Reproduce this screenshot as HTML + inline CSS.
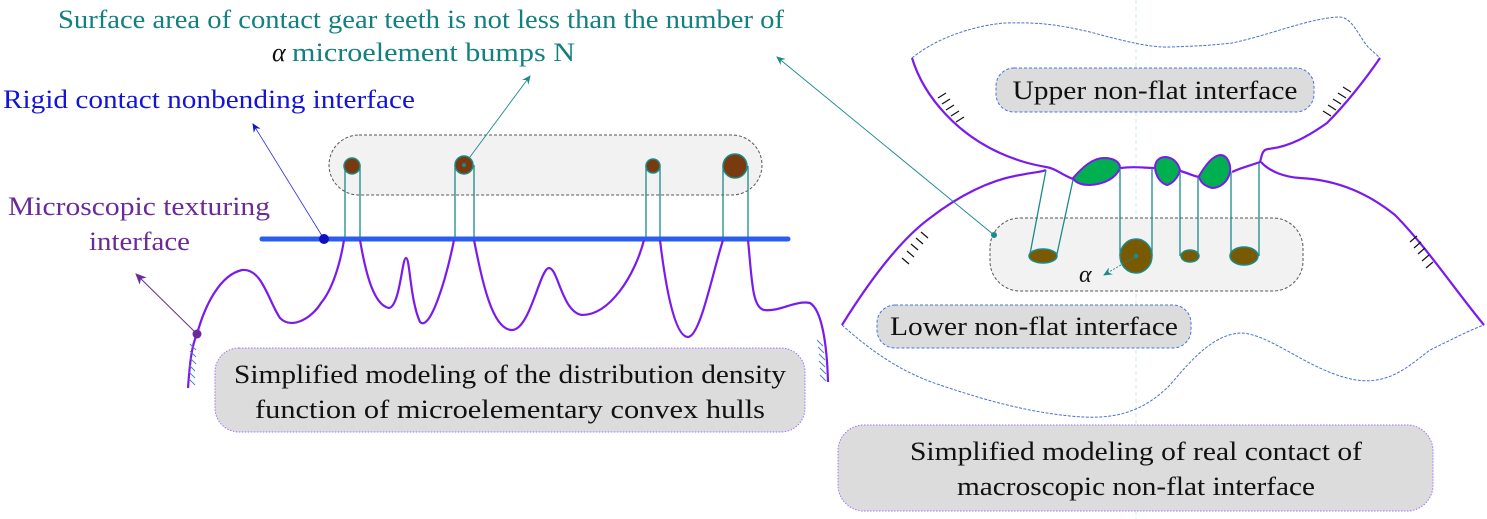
<!DOCTYPE html>
<html><head><meta charset="utf-8"><style>
html,body{margin:0;padding:0;background:#fff;width:1487px;height:519px;overflow:hidden}
svg{display:block}
svg text{font-family:"Liberation Serif","Times New Roman",Times,serif}
</style></head><body>
<svg width="1487" height="519" viewBox="0 0 1487 519" xmlns="http://www.w3.org/2000/svg" font-family="Liberation Serif, Times New Roman, serif">
<defs>
<marker id="aT" markerWidth="10" markerHeight="10" refX="8" refY="5" orient="auto" markerUnits="userSpaceOnUse"><path d="M0,1 L9,5 L0,9 L3,5Z" fill="#1a8a8a"/></marker>
<marker id="aB" markerWidth="10" markerHeight="10" refX="8" refY="5" orient="auto" markerUnits="userSpaceOnUse"><path d="M0,1 L9,5 L0,9 L3,5Z" fill="#1010d0"/></marker>
<marker id="aP" markerWidth="12" markerHeight="12" refX="10" refY="6" orient="auto" markerUnits="userSpaceOnUse"><path d="M0,1 L11,6 L0,11 L3,6Z" fill="#6a2a9a"/></marker>
</defs>

<text x="58" y="28" font-size="26" fill="#138080" textLength="726" lengthAdjust="spacingAndGlyphs">Surface area of contact gear teeth is not less than the number of</text>
<text x="272" y="61" font-size="26" fill="#111" font-style="italic">α</text>
<text x="292" y="61" font-size="26" fill="#138080" textLength="283" lengthAdjust="spacingAndGlyphs">microelement bumps N</text>
<text x="3" y="108" font-size="26" fill="#1414d8" textLength="412" lengthAdjust="spacingAndGlyphs">Rigid contact nonbending interface</text>
<text x="8" y="215" font-size="26" fill="#6a2a9a" textLength="262" lengthAdjust="spacingAndGlyphs">Microscopic texturing</text>
<text x="89" y="250" font-size="26" fill="#6a2a9a" textLength="101" lengthAdjust="spacingAndGlyphs">interface</text>

<rect x="329" y="135" width="433" height="60" rx="30" fill="#f2f2f2" stroke="#555" stroke-dasharray="3,2" stroke-width="1"/>

<line x1="324" y1="239" x2="253" y2="124" stroke="#3030e0" stroke-width="0.8" marker-end="url(#aB)"/>
<line x1="464" y1="165" x2="530" y2="76" stroke="#1a8a8a" stroke-width="0.9" marker-end="url(#aT)"/>
<line x1="197" y1="334" x2="136" y2="274" stroke="#6a2a9a" stroke-width="1" marker-end="url(#aP)"/>

<g stroke="#1a8a8a" stroke-width="1.3" fill="none">
<line x1="345" y1="166" x2="345" y2="240"/><line x1="360" y1="166" x2="360" y2="240"/>
<line x1="455" y1="165" x2="455" y2="240"/><line x1="474" y1="165" x2="474" y2="240"/>
<line x1="646" y1="166" x2="646" y2="240"/><line x1="660" y1="166" x2="660" y2="240"/>
<line x1="723" y1="166" x2="723" y2="240"/><line x1="748" y1="166" x2="748" y2="240"/>
</g>
<g fill="#7a3a10" stroke="#1a8a8a" stroke-width="1.5">
<circle cx="352" cy="166" r="8"/><circle cx="464" cy="165" r="9"/><circle cx="653" cy="166" r="7"/><circle cx="735" cy="166" r="12"/>
</g>
<circle cx="464" cy="165" r="2" fill="#1a8a8a"/>

<line x1="262" y1="239" x2="788" y2="239" stroke="#2a5cf0" stroke-width="5" stroke-linecap="round"/>
<circle cx="324" cy="239" r="5" fill="#1010c0"/>

<path d="M188,388 C190,360 192,345 197,334 C205,305 220,275 242,270 C262,268 268,300 280,318 C292,330 312,318 321,303 C332,290 340,265 344,240
M360,240 C366,275 374,305 389,308 C400,306 402,258 406,258 C410,258 410,300 420,322 C430,332 446,280 454,240
M474,240 C482,280 492,330 512,330 C530,330 540,268 549,268 C558,268 562,312 582,315 C610,315 635,275 644,240
M660,240 C666,290 675,337 688,337 C700,337 712,275 723,240
M748,240 C752,280 752,307 764,310 C780,312 795,300 810,303 C822,310 827,345 828,382" fill="none" stroke="#7a1aee" stroke-width="2.2"/>
<circle cx="197" cy="334" r="4.5" fill="#6a2a9a"/>
<g stroke="#4a80d0" stroke-width="1">
<line x1="190" y1="344" x2="196" y2="350"/><line x1="190" y1="351" x2="196" y2="357"/><line x1="190" y1="358" x2="196" y2="364"/><line x1="189" y1="365" x2="195" y2="371"/><line x1="189" y1="372" x2="195" y2="378"/><line x1="189" y1="379" x2="195" y2="385"/>
<line x1="817" y1="340" x2="823" y2="346"/><line x1="818" y1="347" x2="824" y2="353"/><line x1="819" y1="354" x2="825" y2="360"/><line x1="819" y1="361" x2="825" y2="367"/><line x1="820" y1="368" x2="826" y2="374"/><line x1="820" y1="375" x2="826" y2="381"/>
</g>

<rect x="215" y="348" width="590" height="84" rx="24" fill="#dcdcdc" stroke="#a070ff" stroke-dasharray="1.5,1.5" stroke-width="1"/>
<text x="510" y="383" font-size="26" fill="#111" text-anchor="middle" textLength="552" lengthAdjust="spacingAndGlyphs">Simplified modeling of the distribution density</text>
<text x="510" y="418" font-size="26" fill="#111" text-anchor="middle" textLength="510" lengthAdjust="spacingAndGlyphs">function of microelementary convex hulls</text>

<line x1="1136" y1="0" x2="1136" y2="519" stroke="#cfe8e8" stroke-width="1" stroke-dasharray="4,3"/>
<path d="M912,58 C940,35 980,25 1005,23 C1040,22 1060,25 1090,32 C1120,40 1150,48 1170,47 C1200,46 1215,45 1232,43 C1270,35 1310,18 1339,17 C1352,17 1358,35 1368,47 L1380,58" fill="none" stroke="#4a70d0" stroke-width="1" stroke-dasharray="3,1.5"/>
<path d="M842,325 C870,350 900,372 940,385 C990,402 1030,412 1070,416 C1110,420 1140,415 1170,385 C1195,355 1215,335 1240,333 C1270,333 1310,372 1356,380 C1390,385 1410,365 1430,350 C1455,338 1470,330 1484,325" fill="none" stroke="#4a70d0" stroke-width="1" stroke-dasharray="3,1.5"/>
<path d="M912,58 C925,100 960,135 1000,153 C1020,162 1035,165 1046,167 C1055,168 1062,175 1073,179 C1085,180 1110,168 1121,168 C1135,166 1145,168 1154,168 M1180,171 C1188,173 1193,176 1199,177 M1232,172 C1240,168 1252,165 1260,162 C1262,155 1262,150 1268,149 C1290,147 1310,135 1327,123 C1345,105 1365,80 1380,58" fill="none" stroke="#7a1aee" stroke-width="2.2"/>
<path d="M842,325 C870,280 900,240 930,218 C960,195 990,180 1020,175 C1035,172 1042,172 1046,170 M1261,162 C1270,172 1285,177 1300,178 C1340,180 1370,195 1395,215 C1425,245 1455,290 1484,325" fill="none" stroke="#7a1aee" stroke-width="2.2"/>
<g fill="#00b050" stroke="#7a1aee" stroke-width="2">
<path d="M1073,178 C1082,168 1092,158 1104,158 C1114,158 1120,162 1120,168 C1116,178 1105,184 1090,185 C1080,185 1075,182 1073,178Z"/>
<path d="M1155,168 C1155,160 1160,157 1166,157 C1174,158 1178,163 1180,170 C1178,178 1172,184 1167,185 C1160,183 1156,176 1155,168Z"/>
<path d="M1199,176 C1205,166 1212,156 1220,155 C1228,155 1231,165 1230,172 C1228,182 1220,188 1212,188 C1204,186 1200,182 1199,176Z"/>
</g>

<rect x="990" y="218" width="313" height="73" rx="30" fill="#f2f2f2" stroke="#555" stroke-dasharray="3,2" stroke-width="1"/>
<line x1="994" y1="235" x2="777" y2="57" stroke="#1a8a8a" stroke-width="0.9" marker-end="url(#aT)"/>
<circle cx="994" cy="235" r="3" fill="#1a8a8a"/>
<g stroke="#1a8a8a" stroke-width="1.3" fill="none">
<line x1="1046" y1="170" x2="1030" y2="254"/><line x1="1073" y1="180" x2="1057" y2="254"/>
<line x1="1120" y1="168" x2="1120" y2="256"/><line x1="1152" y1="168" x2="1152" y2="256"/>
<line x1="1180" y1="173" x2="1180" y2="256"/><line x1="1198" y1="177" x2="1198" y2="256"/>
<line x1="1231" y1="172" x2="1231" y2="256"/><line x1="1259" y1="163" x2="1259" y2="256"/>
</g>
<g fill="#7a5a00" stroke="#1a8a8a" stroke-width="1.5">
<ellipse cx="1043" cy="256" rx="14" ry="7"/>
<ellipse cx="1136" cy="256" rx="16" ry="17"/>
<ellipse cx="1190" cy="256" rx="9" ry="6"/>
<ellipse cx="1244" cy="256" rx="14" ry="9"/>
</g>
<circle cx="1136" cy="256" r="2.5" fill="#1a8a8a"/>
<line x1="1136" y1="256" x2="1104" y2="275" stroke="#1a8a8a" stroke-width="0.9" stroke-dasharray="2,1.5" marker-end="url(#aT)"/>
<text x="1079" y="282" font-size="24" font-style="italic" fill="#111">α</text>

<g stroke="#111" stroke-width="1.2">
<line x1="938" y1="98" x2="946" y2="93"/><line x1="942" y1="104" x2="950" y2="99"/><line x1="946" y1="110" x2="954" y2="105"/><line x1="951" y1="116" x2="959" y2="111"/><line x1="956" y1="122" x2="964" y2="117"/>
<line x1="1331" y1="116" x2="1323" y2="111"/><line x1="1336" y1="110" x2="1328" y2="105"/><line x1="1341" y1="104" x2="1333" y2="99"/><line x1="1346" y1="98" x2="1338" y2="93"/><line x1="1351" y1="92" x2="1343" y2="87"/>
<line x1="921" y1="232" x2="928" y2="238"/><line x1="916" y1="238" x2="923" y2="244"/><line x1="911" y1="244" x2="918" y2="250"/><line x1="907" y1="251" x2="914" y2="257"/><line x1="902" y1="258" x2="909" y2="264"/>
<line x1="1417" y1="236" x2="1410" y2="242"/><line x1="1421" y1="242" x2="1414" y2="248"/><line x1="1425" y1="248" x2="1418" y2="254"/><line x1="1429" y1="255" x2="1422" y2="261"/><line x1="1433" y1="262" x2="1426" y2="268"/>
</g>

<rect x="996" y="68" width="318" height="44" rx="18" fill="#dcdcdc" stroke="#4a70e0" stroke-dasharray="3,2" stroke-width="1"/>
<text x="1155" y="99" font-size="26" fill="#111" text-anchor="middle" textLength="285" lengthAdjust="spacingAndGlyphs">Upper non-flat interface</text>
<rect x="877" y="305" width="314" height="43" rx="18" fill="#dcdcdc" stroke="#4a70e0" stroke-dasharray="3,2" stroke-width="1"/>
<text x="1034" y="335" font-size="26" fill="#111" text-anchor="middle" textLength="288" lengthAdjust="spacingAndGlyphs">Lower non-flat interface</text>
<rect x="838" y="425" width="595" height="86" rx="26" fill="#dcdcdc" stroke="#a070ff" stroke-dasharray="1.5,1.5" stroke-width="1"/>
<text x="1136" y="460" font-size="26" fill="#111" text-anchor="middle" textLength="452" lengthAdjust="spacingAndGlyphs">Simplified modeling of real contact of</text>
<text x="1136" y="495" font-size="26" fill="#111" text-anchor="middle" textLength="358" lengthAdjust="spacingAndGlyphs">macroscopic non-flat interface</text>
</svg>
</body></html>
